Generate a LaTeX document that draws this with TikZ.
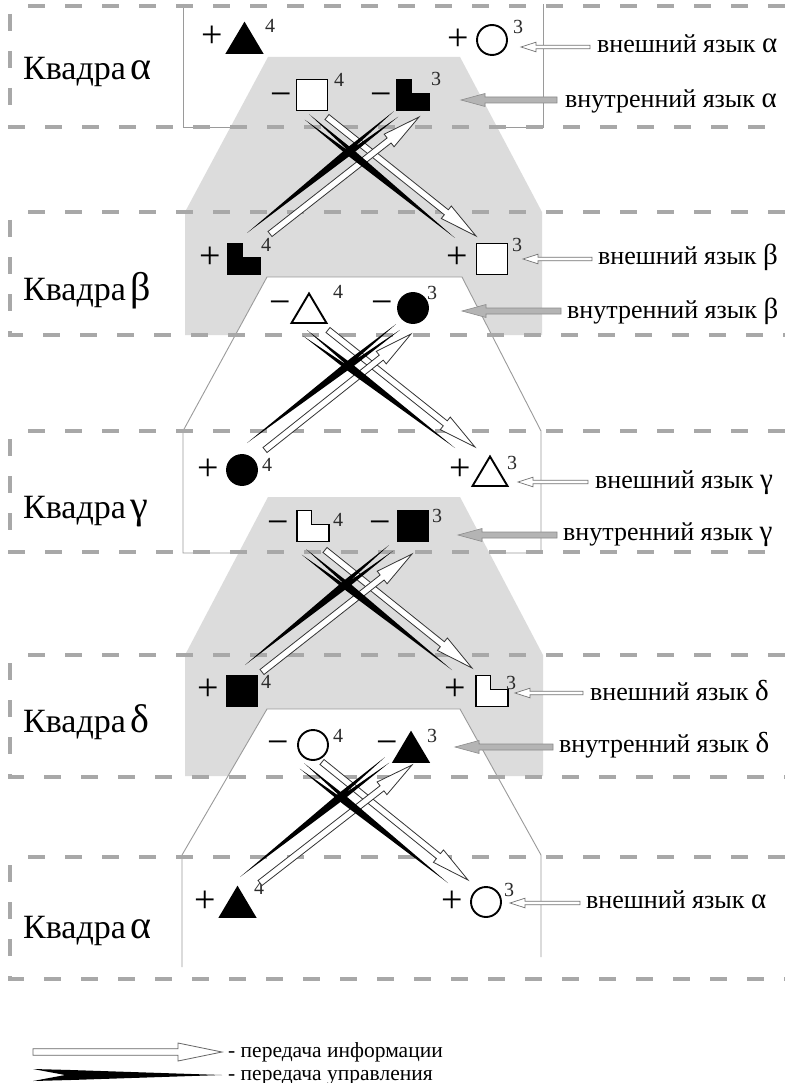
\documentclass[tikz,border=0pt]{standalone}
\usepackage{fontspec}
\setmainfont{Liberation Serif}
\usetikzlibrary{calc}
\definecolor{dashgray}{HTML}{A8A8A8}
\definecolor{fillgray}{HTML}{DCDCDC}
\definecolor{linegray}{HTML}{9A9A9A}
\definecolor{intgray}{HTML}{B4B4B4}
\definecolor{supgray}{HTML}{2A2A2A}
% open/filled arrow polygon: [style]{tail}{tip}{shaft half}{head half}{head length}
\newcommand\flatarrow[6][]{%
  \filldraw[#1] ($(#2)!#4!90:(#3)$) -- ($(#3)!#6!(#2)!#4!90:(#3)$) -- ($(#3)!#6!(#2)!#5!90:(#3)$) -- (#3)
    -- ($(#3)!#6!(#2)!#5!-90:(#3)$) -- ($(#3)!#6!(#2)!#4!-90:(#3)$) -- ($(#2)!#4!-90:(#3)$) -- cycle;}
% control spike: [style]{tail}{tip}{prong half}{notch frac}{max frac}{max half}
\newcommand\ctrlspike[7][]{%
  \fill[#1] ($(#2)!#4!90:(#3)$) -- ($(#2)!#6!(#3)!#7!90:(#3)$) -- (#3) -- ($(#2)!#6!(#3)!#7!-90:(#3)$)
    -- ($(#2)!#4!-90:(#3)$) -- ($(#2)!#5!(#3)$) -- cycle;}
\begin{document}
\begin{tikzpicture}[x=1pt,y=-1pt,
  dashbox/.style={draw=dashgray, line width=3.2pt, dash pattern=on 17pt off 20pt},
  hexline/.style={draw=linegray, line width=0.9pt},
  whitehex/.style={fill=white, draw=linegray, line width=0.9pt},
  symline/.style={draw=black, line width=1.9pt},
  pm/.style={inner sep=0pt, font=\fontsize{38}{38}\selectfont, text height=20.5pt, text depth=0pt},
  supnum/.style={inner sep=0pt, text=supgray, font=\fontsize{20}{20}\selectfont},
  lbl/.style={inner sep=0pt, anchor=base west, font=\fontsize{26}{26}\selectfont},
  quad/.style={inner sep=0pt, anchor=base west, font=\fontsize{34}{34}\selectfont},
  legtext/.style={inner sep=0pt, anchor=base west, font=\fontsize{21.5}{21.5}\selectfont},
  infoarr/.style={fill=white, draw=black!80, line width=0.8pt},
  extarr/.style={fill=white, draw=black!55, line width=0.7pt},
  intarr/.style={fill=intgray, draw=black!45, line width=0.6pt},
  ctrlarr/.style={black},
  sq/.pic={\filldraw[symline, fill=#1] (-15.5,-15.5) rectangle (15.5,15.5);},
  circ/.pic={\filldraw[symline, fill=#1] (0,0) circle[radius=15pt];},
  tri/.pic={\filldraw[symline, fill=#1] (-17.5,15) -- (17.5,15) -- (0,-14.5) -- cycle;},
  ell/.pic={\filldraw[symline, fill=#1] (-16,-15.5) -- (-1.5,-15.5) -- (-1.5,-1.5) -- (16,-1.5) -- (16,15.5) -- (-16,15.5) -- cycle;}
]
\useasboundingbox (0,0) rectangle (784,1083);
\fill[white] (0,0) rectangle (784,1083);

% ---- language hexagons ----
\draw[hexline] (183,4) -- (183,127) -- (543,127) -- (543,4);
\fill[fillgray] (268,57) -- (460,57) -- (542,212) -- (542,335) -- (185,335) -- (185,212) -- cycle;
\filldraw[whitehex] (267,277) -- (462,277) -- (541,431) -- (541,553) -- (183,553) -- (183,431) -- cycle;
\fill[fillgray] (268,497) -- (460,497) -- (543,655) -- (543,776) -- (185,776) -- (185,655) -- cycle;
\fill[white] (267,709) -- (460,709) -- (541,855) -- (541,967) -- (182,967) -- (182,855) -- cycle;
\draw[hexline] (182,967) -- (182,855) -- (267,709) -- (460,709) -- (541,855) -- (541,957);

% ---- dashed quadra boxes ----
\foreach \t/\b in {6/127, 212/335, 431/552, 655/777, 857/979}{
  \draw[dashbox] (28,\t) -- (790,\t);
  \draw[dashbox] (10,\t+8) -- (10,\b) -- (790,\b);
}

% ---- quadra labels ----
\node[quad] (q1) at (23,80)  {Квадра\kern5pt{\fontsize{40}{40}\selectfont α}};
\node[quad] (q2) at (23,300) {Квадра\kern5pt{\fontsize{40}{40}\selectfont β}};
\node[quad] (q3) at (23,518) {Квадра\kern5pt{\fontsize{40}{40}\selectfont γ}};
\node[quad] (q4) at (23,732) {Квадра\kern5pt{\fontsize{40}{40}\selectfont δ}};
\node[quad] (q5) at (23,938) {Квадра\kern5pt{\fontsize{40}{40}\selectfont α}};

% ---- symbols ----
% alpha (top)
\node[pm] (p1) at (212,37) {+};  \coordinate (s1) at (244.5,38);  \pic at (s1) {tri=black};  \node[supnum] (n1) at (270,26) {4};
\node[pm] (p2) at (458,40) {+};  \coordinate (s2) at (492,40);    \pic at (s2) {circ=white}; \node[supnum] (n2) at (518,27) {3};
\node[pm] (m1) at (281,96) {−};  \coordinate (s3) at (312,95);    \pic at (s3) {sq=white};   \node[supnum] (n3) at (339,80) {4};
\node[pm] (m2) at (381,96) {−};  \coordinate (s4) at (413,95);    \pic at (s4) {ell=black};  \node[supnum] (n4) at (436,79) {3};
% beta
\node[pm] (p3) at (210,258) {+}; \coordinate (s5) at (244,259);   \pic at (s5) {ell=black};  \node[supnum] (n5) at (266,245) {4};
\node[pm] (p4) at (457,258) {+}; \coordinate (s6) at (492,259);   \pic at (s6) {sq=white};   \node[supnum] (n6) at (517,245) {3};
\node[pm] (m3) at (280,304) {−}; \coordinate (s7) at (309,308);   \pic at (s7) {tri=white};  \node[supnum] (n7) at (338,292) {4};
\node[pm] (m4) at (382,304) {−}; \coordinate (s8) at (413,308);   \pic at (s8) {circ=black}; \node[supnum] (n8) at (432,293) {3};
% gamma
\node[pm] (p5) at (208,470) {+}; \coordinate (s9) at (242,470);   \pic at (s9) {circ=black}; \node[supnum] (n9) at (267,465) {4};
\node[pm] (p6) at (460,470) {+}; \coordinate (s10) at (490,471);  \pic at (s10) {tri=white}; \node[supnum] (n10) at (512,463) {3};
\node[pm] (m5) at (278,524) {−}; \coordinate (s11) at (313,526);  \pic at (s11) {ell=white}; \node[supnum] (n11) at (338,520) {4};
\node[pm] (m6) at (380,524) {−}; \coordinate (s12) at (413,526);  \pic at (s12) {sq=black};  \node[supnum] (n12) at (437,516) {3};
% delta
\node[pm] (p7) at (208,690) {+}; \coordinate (s13) at (242,691);  \pic at (s13) {sq=black};  \node[supnum] (n13) at (266,682) {4};
\node[pm] (p8) at (455,690) {+}; \coordinate (s14) at (492,691);  \pic at (s14) {ell=white}; \node[supnum] (n14) at (511,683) {3};
\node[pm] (m7) at (278,744) {−}; \coordinate (s15) at (313,745);  \pic at (s15) {circ=white};\node[supnum] (n15) at (338,736) {4};
\node[pm] (m8) at (387,744) {−}; \coordinate (s16) at (411,747);  \pic at (s16) {tri=black}; \node[supnum] (n16) at (432,736) {3};
% alpha (bottom)
\node[pm] (p9) at (205,902) {+};  \coordinate (s17) at (237.5,902); \pic at (s17) {tri=black}; \node[supnum] (n17) at (259,888) {4};
\node[pm] (p10) at (452,902) {+}; \coordinate (s18) at (486,902);   \pic at (s18) {circ=white};\node[supnum] (n18) at (509,890) {3};

% ---- right labels ----
\node[lbl] (e1) at (597,53)  {внешний язык {\fontsize{29}{29}\selectfont α}};
\node[lbl] (i1) at (565,108) {внутренний язык {\fontsize{29}{29}\selectfont α}};
\node[lbl] (e2) at (598,265) {внешний язык {\fontsize{29}{29}\selectfont β}};
\node[lbl] (i2) at (567,318) {внутренний язык {\fontsize{29}{29}\selectfont β}};
\node[lbl] (e3) at (595,488) {внешний язык {\fontsize{29}{29}\selectfont γ}};
\node[lbl] (i3) at (563,540) {внутренний язык {\fontsize{29}{29}\selectfont γ}};
\node[lbl] (e4) at (590,700) {внешний язык {\fontsize{29}{29}\selectfont δ}};
\node[lbl] (i4) at (559,752) {внутренний язык {\fontsize{29}{29}\selectfont δ}};
\node[lbl] (e5) at (586,908) {внешний язык {\fontsize{29}{29}\selectfont α}};

% ---- label arrows ----
\coordinate (e1t) at (590,47);  \coordinate (e1h) at (521,47);
\coordinate (i1t) at (557,100); \coordinate (i1h) at (461,100);
\coordinate (e2t) at (592,259); \coordinate (e2h) at (523,259);
\coordinate (i2t) at (561,311); \coordinate (i2h) at (462,311);
\coordinate (e3t) at (588,482); \coordinate (e3h) at (518,482);
\coordinate (i3t) at (557,535); \coordinate (i3h) at (458,535);
\coordinate (e4t) at (583,693); \coordinate (e4h) at (515,693);
\coordinate (i4t) at (553,747); \coordinate (i4h) at (455,747);
\coordinate (e5t) at (580,903); \coordinate (e5h) at (510,903);
\foreach \k in {1,...,5}{\flatarrow[extarr]{e\k t}{e\k h}{1.8pt}{4.8pt}{15pt}}
\foreach \k in {1,...,4}{\flatarrow[intarr]{i\k t}{i\k h}{3pt}{6.5pt}{24pt}}

% ---- crossings (information and control transfer) ----
% crossing 1
\coordinate (bA1t) at (307,117); \coordinate (bA1h) at (455,238);
\coordinate (wA1t) at (327,117); \coordinate (wA1h) at (476,236);
\coordinate (bB1t) at (396,114); \coordinate (bB1h) at (247,233);
\coordinate (wB1t) at (270,234); \coordinate (wB1h) at (419,117);
% crossing 2
\coordinate (bA2t) at (305,333); \coordinate (bA2h) at (455,448);
\coordinate (wA2t) at (328,330); \coordinate (wA2h) at (475,447);
\coordinate (bB2t) at (398,327); \coordinate (bB2h) at (247,443);
\coordinate (wB2t) at (265,450); \coordinate (wB2h) at (411,334);
% crossing 3
\coordinate (bA3t) at (304,552); \coordinate (bA3h) at (452,670);
\coordinate (wA3t) at (325,550); \coordinate (wA3h) at (472,668);
\coordinate (bB3t) at (391,548); \coordinate (bB3h) at (245,665);
\coordinate (wB3t) at (262,672); \coordinate (wB3h) at (412,554);
% crossing 4
\coordinate (bA4t) at (302,766); \coordinate (bA4h) at (448,883);
\coordinate (wA4t) at (322,762); \coordinate (wA4h) at (468,880);
\coordinate (bB4t) at (387,760); \coordinate (bB4h) at (240,877);
\coordinate (wB4t) at (260,883); \coordinate (wB4h) at (412,765);

\foreach \k in {1,...,4}{
  \flatarrow[infoarr]{wA\k t}{wA\k h}{3.2pt}{8pt}{38pt}
  \flatarrow[infoarr]{wB\k t}{wB\k h}{3.2pt}{8pt}{38pt}
  \ctrlspike[ctrlarr]{bB\k t}{bB\k h}{3.5pt}{0.28}{0.3}{4pt}
  \ctrlspike[ctrlarr]{bA\k t}{bA\k h}{3.5pt}{0.28}{0.3}{4pt}
}

% ---- legend ----
\coordinate (lwt) at (33,1052); \coordinate (lwh) at (222,1052);
\coordinate (lbt) at (33,1075); \coordinate (lbh) at (222,1075);
\flatarrow[infoarr, draw=black!60]{lwt}{lwh}{3.3pt}{9pt}{44pt}
\ctrlspike[ctrlarr]{lbt}{lbh}{6pt}{0.17}{0.2}{5pt}
\node[legtext] (lg1) at (228,1057) {- передача информации};
\node[legtext] (lg2) at (228,1080) {- передача управления};
\end{tikzpicture}
\end{document}
